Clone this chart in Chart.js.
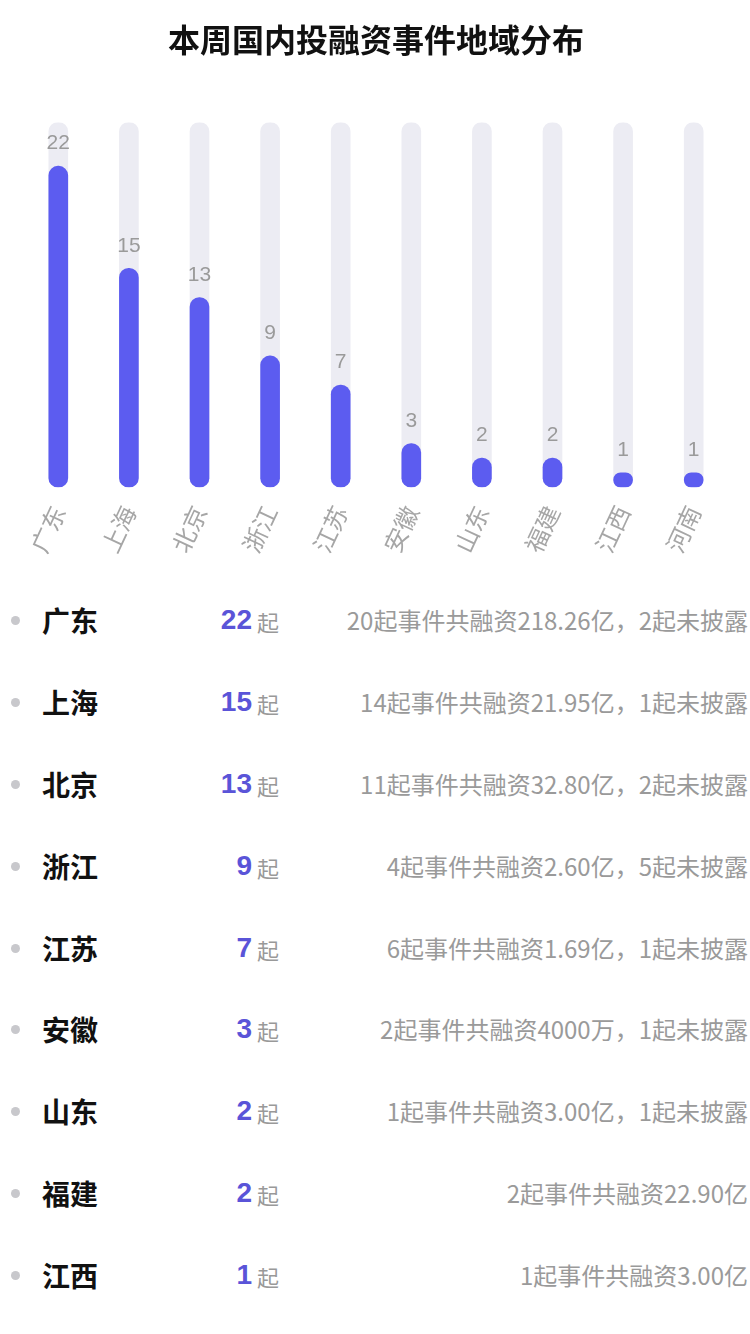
<!DOCTYPE html>
<html>
<head>
  <meta charset="utf-8">
  <title>本周国内投融资事件地域分布</title>
  <script src="https://cdn.jsdelivr.net/npm/chart.js"></script>
  <style>
    body {
      margin: 0;
      padding: 0;
      width: 750px;
      height: 1334px;
      background: #fff;
      font-family: "Noto Sans CJK SC", "Noto Sans", sans-serif;
      position: relative;
      overflow: hidden;
    }
    #wrap {
      position: absolute;
      left: 0;
      top: 0;
      width: 750px;
      height: 575px;
    }
    #list {
      position: absolute;
      left: 0;
      top: 579px;
      width: 750px;
    }
    .row {
      position: relative;
      height: 81.9px;
    }
    .row .dot {
      position: absolute;
      left: 11px;
      top: 37px;
      width: 9px;
      height: 9px;
      border-radius: 50%;
      background: #c8c8cc;
    }
    .row .name {
      position: absolute;
      left: 42px;
      top: 21px;
      font-size: 28px;
      font-weight: bold;
      color: #111;
      line-height: 40px;
    }
    .row .num {
      position: absolute;
      right: 498px;
      top: 22px;
      font-size: 28px;
      font-weight: bold;
      font-family: "Liberation Sans", "Noto Sans CJK SC", sans-serif;
      color: #5a54d8;
      line-height: 38px;
    }
    .row .unit {
      position: absolute;
      left: 257px;
      top: 25px;
      font-size: 22px;
      color: #999;
      line-height: 34px;
    }
    .row .desc {
      position: absolute;
      right: 2px;
      top: 23px;
      font-size: 24px;
      color: #9a9a9a;
      line-height: 36px;
      white-space: nowrap;
    }
  </style>
</head>
<body>
  <div id="wrap"><canvas id="myChart"></canvas></div>
  <div id="list"></div>

  <script>
    const regions = ['广东', '上海', '北京', '浙江', '江苏', '安徽', '山东', '福建', '江西', '河南'];
    const counts = [22, 15, 13, 9, 7, 3, 2, 2, 1, 1];
    const trackMax = 25;
    const notes = [
      '20起事件共融资218.26亿，2起未披露',
      '14起事件共融资21.95亿，1起未披露',
      '11起事件共融资32.80亿，2起未披露',
      '4起事件共融资2.60亿，5起未披露',
      '6起事件共融资1.69亿，1起未披露',
      '2起事件共融资4000万，1起未披露',
      '1起事件共融资3.00亿，1起未披露',
      '2起事件共融资22.90亿',
      '1起事件共融资3.00亿'
    ];

    // numbers above each purple bar
    const valueLabels = {
      id: 'valueLabels',
      afterDatasetsDraw(chart) {
        const meta = chart.getDatasetMeta(1);
        const c = chart.ctx;
        c.save();
        c.font = '21px "Liberation Sans", "Noto Sans", sans-serif';
        c.fillStyle = '#9a9a9a';
        c.textAlign = 'center';
        c.textBaseline = 'bottom';
        meta.data.forEach((bar, i) => {
          c.fillText(counts[i], bar.x, bar.y - 12);
        });
        c.restore();
      }
    };

    const ctx = document.getElementById('myChart').getContext('2d');
    const chart = new Chart(ctx, {
      type: 'bar',
      data: {
        labels: regions,
        datasets: [{
          label: 'track',
          data: regions.map(() => trackMax),
          backgroundColor: '#ececf3',
          barThickness: 19,
          borderRadius: 10,
          borderSkipped: false,
          grouped: false,
          order: 2
        }, {
          label: '事件数',
          data: counts,
          backgroundColor: '#5c5cf0',
          barThickness: 19,
          borderRadius: 10,
          borderSkipped: false,
          grouped: false,
          order: 1
        }]
      },
      options: {
        responsive: true,
        maintainAspectRatio: false,
        animation: false,
        layout: {
          padding: { left: 23, right: 21, top: 0, bottom: 4 }
        },
        plugins: {
          legend: { display: false },
          tooltip: { enabled: false },
          title: {
            display: true,
            text: '本周国内投融资事件地域分布',
            color: '#111',
            font: { size: 32, weight: 'bold', family: '"Noto Sans CJK SC", sans-serif', lineHeight: 1.2 },
            padding: { top: 21, bottom: 63 }
          }
        },
        scales: {
          x: {
            grid: { display: false, drawTicks: false },
            border: { display: false },
            ticks: {
              color: '#a6a6a6',
              font: { size: 24, family: '"Noto Sans CJK SC", sans-serif' },
              minRotation: 65,
              maxRotation: 65,
              padding: 14
            }
          },
          y: {
            display: false,
            min: 0,
            max: trackMax
          }
        }
      },
      plugins: [valueLabels]
    });

    const list = document.getElementById('list');
    notes.forEach((note, i) => {
      const row = document.createElement('div');
      row.className = 'row';
      row.innerHTML =
        '<span class="dot"></span>' +
        '<span class="name">' + regions[i] + '</span>' +
        '<span class="num">' + counts[i] + '</span>' +
        '<span class="unit">起</span>' +
        '<span class="desc">' + note + '</span>';
      list.appendChild(row);
    });
  </script>
</body>
</html>
